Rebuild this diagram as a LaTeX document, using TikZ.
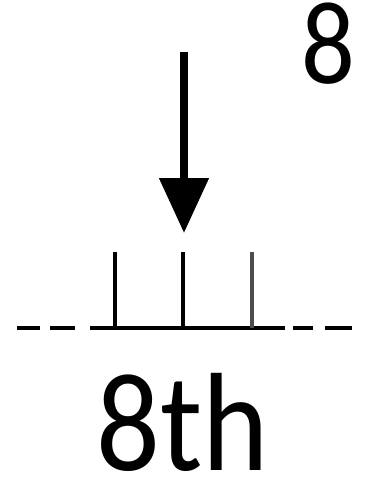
\documentclass[tikz,border=0pt]{standalone}
\usepackage{fontspec}
\setmainfont{Carlito}
\usetikzlibrary{arrows.meta}
\begin{document}
\begin{tikzpicture}[x=1pt,y=-1pt,
  bar/.style={line width=4.5pt},
  tick/.style={line width=3.5pt},
  dashseg/.style={line width=4.5pt},
  bigtext/.style={anchor=base,inner sep=0pt,xscale=0.9,transform shape}]
\useasboundingbox (0,0) rectangle (366,481);
% arrow
\coordinate (arrowtop) at (184,52);
\coordinate (arrowtip) at (184,233);
\draw[line width=8pt,-{Triangle[width=48pt,length=55pt]}] (arrowtop) -- (arrowtip);
% number
\node[bigtext,font=\fontsize{118}{118}\selectfont] (num) at (328,84) {8};
% ruler
\coordinate (l) at (90,328);
\coordinate (r) at (285,328);
\draw[bar] (l) -- (r);
\coordinate (t1b) at (115,328); \coordinate (t1t) at (115,252);
\coordinate (t2b) at (183,328); \coordinate (t2t) at (183,252);
\coordinate (t3b) at (252,328); \coordinate (t3t) at (252,252);
\draw[tick] (t1b) -- (t1t);
\draw[tick] (t2b) -- (t2t);
\draw[tick,black!70] (t3b) -- (t3t);
\draw[dashseg] (17,328) -- (40,328);
\draw[dashseg] (50,328) -- (75,328);
\draw[dashseg] (293,328) -- (313,328);
\draw[dashseg] (325,328) -- (352,328);
% label
\node[bigtext,font=\fontsize{140}{140}\selectfont] (lab) at (183,470) {8th};
\end{tikzpicture}
\end{document}
